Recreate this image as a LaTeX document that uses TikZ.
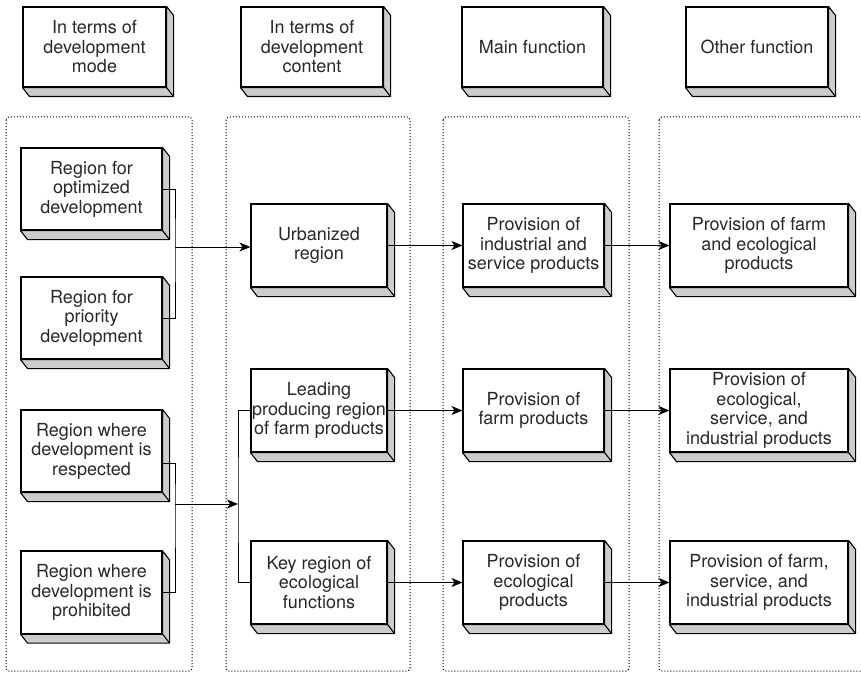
\documentclass[tikz,border=0pt]{standalone}
\usepackage{fontspec}
\setmainfont{TeX Gyre Heros}
\usetikzlibrary{arrows.meta,calc}
\definecolor{sidegray}{RGB}{204,204,204}
\definecolor{txt}{RGB}{40,40,40}
\tikzset{
  box/.style={draw, line width=1.1pt, fill=white, align=center, inner sep=0pt,
    text=txt, font=\fontsize{18}{19.5}\selectfont, minimum height=83},
  wA/.style={minimum width=141},
  wB/.style={minimum width=136},
  wD/.style={minimum width=178},
  side/.style={fill=sidegray, draw, line width=1.1pt, line join=round},
  container/.style={draw, dotted, line width=1pt, rounded corners=3pt},
  link/.style={line width=1pt},
  arr/.style={line width=1pt, -{Stealth[length=11pt,width=9pt,inset=3pt]}}
}
\newcommand{\sides}[1]{%
  \filldraw[side] (#1.north east) -- ++(7,9) -- ($(#1.south east)+(7,9)$)
     -- ($(#1.south west)+(7,9)$) -- (#1.south west) -- (#1.south east) -- cycle;
  \draw[side] (#1.south east) -- ++(7,9);
  \draw[line width=1.1pt] (#1.north west) rectangle (#1.south east);
}
\begin{document}
\begin{tikzpicture}[x=1pt,y=-1pt]
\useasboundingbox (0,0) rectangle (861,674);
% containers
\draw[container] (6,117) rectangle (192,671);
\draw[container] (226,117) rectangle (410,671);
\draw[container] (443,117) rectangle (629,671);
\draw[container] (659,117) rectangle (875,671);
% headers
\node[box, minimum width=143, minimum height=80] (h1) at (94.5,47) {In terms of\\development\\mode};
\node[box, minimum width=142, minimum height=80] (h2) at (312,47) {In terms of\\development\\content};
\node[box, minimum width=141, minimum height=80] (h3) at (532.5,47) {Main function};
\node[box, minimum width=142, minimum height=80] (h4) at (757,47) {Other function};
% column 1
\node[box, wA, minimum height=82] (a1) at (91.5,189) {Region for\\optimized\\development};
\node[box, wA, minimum height=82] (a2) at (91.5,318) {Region for\\priority\\development};
\node[box, wA, minimum height=82] (a3) at (91.5,451) {Region where\\development is\\respected};
\node[box, wA, minimum height=82] (a4) at (91.5,592.5) {Region where\\development is\\prohibited};
% column 2
\node[box, wB] (b1) at (319,245.5) {Urbanized\\region};
\node[box, wB] (b2) at (319,410.5) {Leading\\producing region\\of farm products};
\node[box, wB] (b3) at (319,582.5) {Key region of\\ecological\\functions};
% column 3
\node[box, wA] (c1) at (533.5,245.5) {Provision of\\industrial and\\service products};
\node[box, wA] (c2) at (533.5,410.5) {Provision of\\farm products};
\node[box, wA] (c3) at (533.5,582.5) {Provision of\\ecological\\products};
% column 4
\node[box, wD] (d1) at (759,245.5) {Provision of farm\\and ecological\\products};
\node[box, wD] (d2) at (759,410.5) {Provision of\\ecological,\\service, and\\industrial products};
\node[box, wD] (d3) at (759,582.5) {Provision of farm,\\service, and\\industrial products};
\foreach \n in {h1,h2,h3,h4,a1,a2,a3,a4,b1,b2,b3,c1,c2,c3,d1,d2,d3} {\sides{\n}}
% connectors
\coordinate (k1) at (175,247);
\coordinate (k2) at (175,504);
\coordinate (k3) at (238,504);
\draw[link] (a1.east) -| (k1) |- (a2.east);
\draw[arr] (k1) -- (b1.west |- k1);
\draw[link] ([yshift=-12]a3.east) -| (k2) |- (a4.east);
\draw[arr] (k2) -- (k3);
\draw[link] (b2.west) -| (k3) |- (b3.west);
\draw[arr] (b1.east) -- (c1.west);
\draw[arr] (b2.east) -- (c2.west);
\draw[arr] (b3.east) -- (c3.west);
\draw[arr] (c1.east) -- (d1.west);
\draw[arr] (c2.east) -- (d2.west);
\draw[arr] (c3.east) -- (d3.west);
\end{tikzpicture}
\end{document}
